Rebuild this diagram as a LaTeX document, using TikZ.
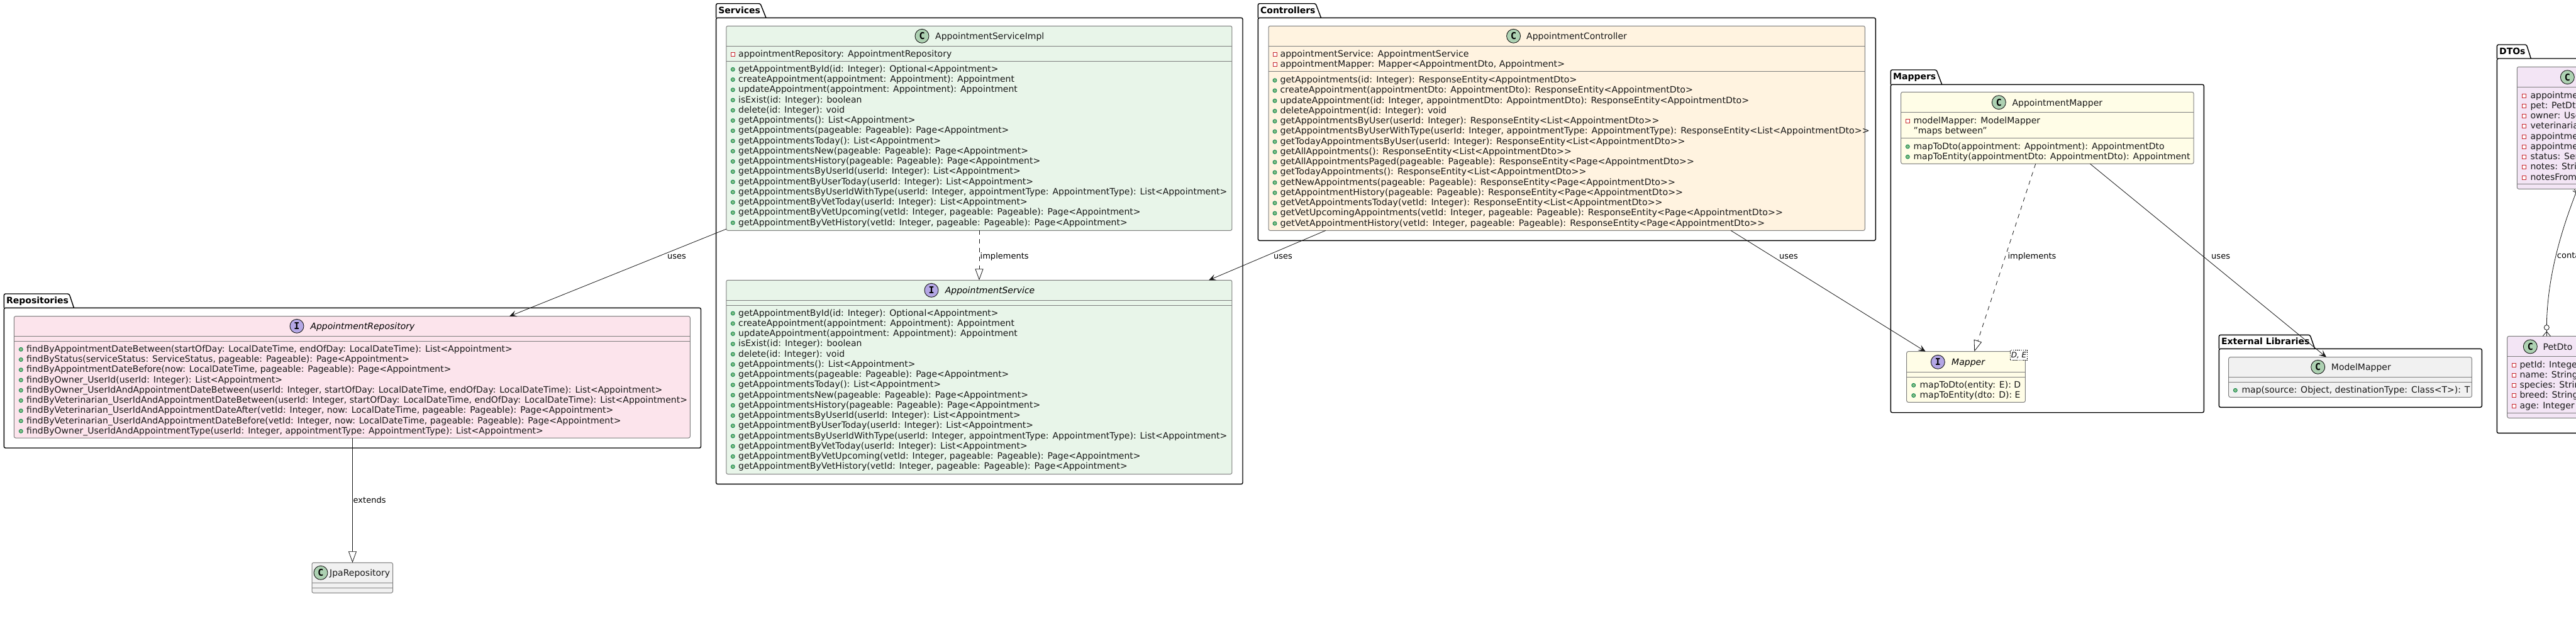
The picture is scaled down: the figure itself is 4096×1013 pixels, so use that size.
\documentclass[tikz,border=0pt]{standalone}
\usepackage{fontspec}
\setmainfont{DejaVu Sans}
\newfontfamily\iconfont{DejaVu Sans Mono}
\newfontfamily\ctlfont[FakeStretch=1.018]{DejaVu Sans}
\usetikzlibrary{arrows.meta,calc}
\definecolor{svcfill}{HTML}{E8F5E9}
\definecolor{ctlfill}{HTML}{FFF3E0}
\definecolor{repofill}{HTML}{FCE4EC}
\definecolor{mapfill}{HTML}{FFFDE7}
\definecolor{dtofill}{HTML}{F3E5F5}
\definecolor{extfill}{HTML}{F1F1F1}
\definecolor{classicon}{HTML}{ADD1B2}
\definecolor{ifaceicon}{HTML}{B4A7E5}
\definecolor{classline}{HTML}{7F7F7F}
\definecolor{inkc}{HTML}{181818}
\definecolor{pubfill}{HTML}{84BE84}
\definecolor{publine}{HTML}{038048}
\definecolor{privline}{HTML}{C82930}
\tikzset{
  classnode/.style={draw=classline,line width=1pt,rounded corners=2.5pt,inner sep=0pt,outer sep=0pt,anchor=north west},
  pkgnode/.style={draw=black,line width=1.4pt,rounded corners=2.5pt,inner sep=0pt,outer sep=0pt,anchor=north west,fill=white},
  pkgtab/.style={draw=black,line width=1.4pt,rounded corners=2.5pt,fill=white},
  pkgtitle/.style={inner sep=0pt,anchor=base west,font=\fontsize{14}{16}\selectfont\bfseries},
  sepline/.style={draw=classline,line width=1pt},
  memtext/.style={inner sep=0pt,anchor=base west,text=inkc,font=\fontsize{14}{16}\selectfont},
  nametext/.style={inner sep=0pt,anchor=base west,text=inkc,font=\fontsize{14}{16}\selectfont},
  ifacetext/.style={inner sep=0pt,anchor=base west,text=black,font=\fontsize{14}{16}\selectfont\itshape},
  lbl/.style={inner sep=0pt,anchor=base west,text=black,font=\fontsize{13}{15}\selectfont},
  pubm/.style={circle,draw=publine,fill=pubfill,line width=0.8pt,minimum size=6pt,inner sep=0pt},
  privm/.style={rectangle,draw=privline,fill=white,line width=0.8pt,minimum size=6pt,inner sep=0pt},
  cicon/.style={circle,draw=inkc,fill=classicon,line width=0.9pt,minimum size=22pt,inner sep=0pt,font=\fontsize{15}{15}\iconfont\bfseries\selectfont},
  iicon/.style={circle,draw=inkc,fill=ifaceicon,line width=0.9pt,minimum size=22pt,inner sep=0pt,font=\fontsize{15}{15}\iconfont\bfseries\selectfont},
  conn/.style={draw=inkc,line width=0.8pt},
  usesarrow/.style={conn,-{Stealth[length=11.5pt,width=10pt,inset=5pt,fill=inkc]}},
  realize/.style={conn,-{Triangle[open,length=18pt,width=13pt,fill=white]}},
  dashedrealize/.style={realize,dash pattern=on 7pt off 7pt},
}
% #1 name, #2 style, #3 fill, #4 x1, #5 y1, #6 x2, #7 y2
\newcommand\boxnode[7]{%
  \pgfmathsetmacro\bw{#6-#4}\pgfmathsetmacro\bh{#7-#5}%
  \node[#2,fill=#3,minimum width=\bw pt,minimum height=\bh pt] (#1) at (#4,#5) {};}
% #1 name, #2 x1, #3 tab top, #4 body top, #5 x2, #6 y2, #7 tab r top, #8 tab r bottom, #9 title
\newcommand\pkgnode[9]{%
  \draw[pkgtab] (#2,#4) -- (#2,#3) -- (#7,#3) -- (#8,#4);
  \pgfmathsetmacro\bw{#5-#2}\pgfmathsetmacro\bh{#6-#4}%
  \node[pkgnode,minimum width=\bw pt,minimum height=\bh pt] (#1) at (#2,#4) {};
  \pgfmathsetmacro\ty{#3+15.6}%
  \pgfmathsetmacro\tx{#2+3.6}%
  \node[pkgtitle] (#1-title) at (\tx,\ty) {#9};}
% #1 prefix, #2 marker style, #3 marker x, #4 text x, #5 first y, #6 list
\newcommand\members[6]{%
  \foreach \t [count=\i from 0] in {#6}{%
    \pgfmathsetmacro\yy{#5+16.25*\i}%
    \pgfmathsetmacro\ym{\yy+1}%
    \pgfmathsetmacro\yb{\yy+5}%
    \node[#2] (#1d\i) at (#3,\ym) {};
    \node[memtext] (#1t\i) at (#4,\yb) {\t};
  }}
\newcommand\seps[2]{\foreach \yy in {#2}{\draw[sepline] (#1.west |- 0,\yy) -- (#1.east |- 0,\yy);}}
\begin{document}
\begin{tikzpicture}[x=1pt,y=-1pt]
\useasboundingbox (0,0) rectangle (4096,1013);
\clip (0,0) rectangle (4096,1013);
\fill[white] (0,0) rectangle (4096,1013);

% ---------- packages
\pkgnode{pkgrepo}{6.3}{467}{489.3}{1114.5}{712}{110}{117.5}{Repositories}
\pkgnode{pkgsvc}{1138.6}{5.7}{28.3}{1976}{769.4}{1209}{1218}{Services}
\pkgnode{pkgctl}{2000.3}{5.7}{28.3}{2982.3}{382.3}{2092}{2100.5}{Controllers}
\pkgnode{pkgmap}{3006.3}{111}{134.3}{3504.3}{655.7}{3079}{3087.7}{Mappers}
\pkgnode{pkgext}{3528.3}{532.3}{554.3}{3946.3}{647.3}{3673}{3680.7}{External Libraries}
\pkgnode{pkgdto}{3970.3}{71}{93}{4200}{688.4}{4017.3}{4024.3}{DTOs}

% ---------- AppointmentRepository
\boxnode{repo}{classnode}{repofill}{22.3}{502.7}{1097.3}{696}
\seps{repo}{534.3,542}
\node[iicon] (repo-icon) at (472,518.3) {I};
\node[ifacetext] (repo-name) at (493.3,523.5) {AppointmentRepository};
\members{repo}{pubm}{33.3}{42}{554.3}{
{findByAppointmentDateBetween(startOfDay: LocalDateTime, endOfDay: LocalDateTime): List<Appointment>},
{findByStatus(serviceStatus: ServiceStatus, pageable: Pageable): Page<Appointment>},
{findByAppointmentDateBefore(now: LocalDateTime, pageable: Pageable): Page<Appointment>},
{findByOwner\_UserId(userId: Integer): List<Appointment>},
{findByOwner\_UserIdAndAppointmentDateBetween(userId: Integer, startOfDay: LocalDateTime, endOfDay: LocalDateTime): List<Appointment>},
{findByVeterinarian\_UserIdAndAppointmentDateBetween(userId: Integer, startOfDay: LocalDateTime, endOfDay: LocalDateTime): List<Appointment>},
{findByVeterinarian\_UserIdAndAppointmentDateAfter(vetId: Integer, now: LocalDateTime, pageable: Pageable): Page<Appointment>},
{findByVeterinarian\_UserIdAndAppointmentDateBefore(vetId: Integer, now: LocalDateTime, pageable: Pageable): Page<Appointment>},
{findByOwner\_UserIdAndAppointmentType(userId: Integer, appointmentType: AppointmentType): List<Appointment>}}

% ---------- JpaRepository
\boxnode{jpa}{classnode}{extfill}{496}{894.3}{624.5}{942.3}
\seps{jpa}{926,934.3}
\node[cicon] (jpa-icon) at (510,910.3) {C};
\node[nametext] (jpa-name) at (524,915.5) {JpaRepository};

% ---------- AppointmentServiceImpl
\boxnode{impl}{classnode}{svcfill}{1154.8}{41.3}{1958.9}{366.3}
\seps{impl}{73.3,97.3}
\node[cicon] (impl-icon) at (1466,57.3) {C};
\node[nametext] (impl-name) at (1487,62.5) {AppointmentServiceImpl};
\members{impla}{privm}{1165.3}{1174}{85.3}{{appointmentRepository: AppointmentRepository}}
\members{implm}{pubm}{1165.3}{1174}{109.3}{
{getAppointmentById(id: Integer): Optional<Appointment>},
{createAppointment(appointment: Appointment): Appointment},
{updateAppointment(appointment: Appointment): Appointment},
{isExist(id: Integer): boolean},
{delete(id: Integer): void},
{getAppointments(): List<Appointment>},
{getAppointments(pageable: Pageable): Page<Appointment>},
{getAppointmentsToday(): List<Appointment>},
{getAppointmentsNew(pageable: Pageable): Page<Appointment>},
{getAppointmentsHistory(pageable: Pageable): Page<Appointment>},
{getAppointmentsByUserId(userId: Integer): List<Appointment>},
{getAppointmentByUserToday(userId: Integer): List<Appointment>},
{getAppointmentsByUserIdWithType(userId: Integer, appointmentType: AppointmentType): List<Appointment>},
{getAppointmentByVetToday(userId: Integer): List<Appointment>},
{getAppointmentByVetUpcoming(vetId: Integer, pageable: Pageable): Page<Appointment>},
{getAppointmentByVetHistory(vetId: Integer, pageable: Pageable): Page<Appointment>}}

% ---------- AppointmentService
\boxnode{svc}{classnode}{svcfill}{1154.8}{445.3}{1958.9}{753.5}
\seps{svc}{477.3,485.3}
\node[iicon] (svc-icon) at (1481,461.3) {I};
\node[ifacetext] (svc-name) at (1502.6,466.5) {AppointmentService};
\members{svcm}{pubm}{1165.3}{1174}{497}{
{getAppointmentById(id: Integer): Optional<Appointment>},
{createAppointment(appointment: Appointment): Appointment},
{updateAppointment(appointment: Appointment): Appointment},
{isExist(id: Integer): boolean},
{delete(id: Integer): void},
{getAppointments(): List<Appointment>},
{getAppointments(pageable: Pageable): Page<Appointment>},
{getAppointmentsToday(): List<Appointment>},
{getAppointmentsNew(pageable: Pageable): Page<Appointment>},
{getAppointmentsHistory(pageable: Pageable): Page<Appointment>},
{getAppointmentsByUserId(userId: Integer): List<Appointment>},
{getAppointmentByUserToday(userId: Integer): List<Appointment>},
{getAppointmentsByUserIdWithType(userId: Integer, appointmentType: AppointmentType): List<Appointment>},
{getAppointmentByVetToday(userId: Integer): List<Appointment>},
{getAppointmentByVetUpcoming(vetId: Integer, pageable: Pageable): Page<Appointment>},
{getAppointmentByVetHistory(vetId: Integer, pageable: Pageable): Page<Appointment>}}

% ---------- AppointmentController
\boxnode{ctl}{classnode}{ctlfill}{2017}{41.3}{2965.3}{366.3}
\seps{ctl}{73.3,113.3}
\node[cicon] (ctl-icon) at (2406.6,57.3) {C};
\node[nametext] (ctl-name) at (2427,62.5) {AppointmentController};
\begin{scope}[memtext/.append style={font=\fontsize{14}{16}\ctlfont}]
\members{ctla}{privm}{2027}{2035.4}{85.3}{
{appointmentService: AppointmentService},
{appointmentMapper: Mapper<AppointmentDto, Appointment>}}
\members{ctlm}{pubm}{2027}{2035.4}{126.7}{
{getAppointments(id: Integer): ResponseEntity<AppointmentDto>},
{createAppointment(appointmentDto: AppointmentDto): ResponseEntity<AppointmentDto>},
{updateAppointment(id: Integer, appointmentDto: AppointmentDto): ResponseEntity<AppointmentDto>},
{deleteAppointment(id: Integer): void},
{getAppointmentsByUser(userId: Integer): ResponseEntity<List<AppointmentDto>>},
{getAppointmentsByUserWithType(userId: Integer, appointmentType: AppointmentType): ResponseEntity<List<AppointmentDto>>},
{getTodayAppointmentsByUser(userId: Integer): ResponseEntity<List<AppointmentDto>>},
{getAllAppointments(): ResponseEntity<List<AppointmentDto>>},
{getAllAppointmentsPaged(pageable: Pageable): ResponseEntity<Page<AppointmentDto>>},
{getTodayAppointments(): ResponseEntity<List<AppointmentDto>>},
{getNewAppointments(pageable: Pageable): ResponseEntity<Page<AppointmentDto>>},
{getAppointmentHistory(pageable: Pageable): ResponseEntity<Page<AppointmentDto>>},
{getVetAppointmentsToday(vetId: Integer): ResponseEntity<List<AppointmentDto>>},
{getVetUpcomingAppointments(vetId: Integer, pageable: Pageable): ResponseEntity<Page<AppointmentDto>>},
{getVetAppointmentHistory(vetId: Integer, pageable: Pageable): ResponseEntity<Page<AppointmentDto>>}}
\end{scope}

% ---------- AppointmentMapper
\boxnode{amap}{classnode}{mapfill}{3022.7}{146.3}{3488}{260.3}
\seps{amap}{178.3,219.3}
\node[cicon] (amap-icon) at (3178.3,162.7) {C};
\node[nametext] (amap-name) at (3199.3,168) {AppointmentMapper};
\members{amapa}{privm}{3033.3}{3042.3}{191}{{modelMapper: ModelMapper}}
\node[memtext] (amap-note) at (3042.3,212) {"maps between"};
\members{amapm}{pubm}{3033.3}{3042.3}{232}{
{mapToDto(appointment: Appointment): AppointmentDto},
{mapToEntity(appointmentDto: AppointmentDto): Appointment}}

% ---------- Mapper
\boxnode{mapper}{classnode}{mapfill}{3031.7}{558.7}{3220.3}{639.3}
\seps{mapper}{591.3,599.3}
\node[iicon] (mapper-icon) at (3081.3,575.3) {I};
\node[ifacetext] (mapper-name) at (3103,580.5) {Mapper};
\node[draw=black,dash pattern=on 1.6pt off 1.6pt,line width=0.7pt,fill=white,inner sep=0pt,minimum width=26.6pt,minimum height=16.4pt,font=\fontsize{12}{14}\selectfont\itshape] (mapper-generic) at (3210,564.5) {D, E};
\members{mapperm}{pubm}{3042.7}{3052.3}{611.3}{
{mapToDto(entity: E): D},
{mapToEntity(dto: D): E}}

% ---------- ModelMapper
\boxnode{mm}{classnode}{extfill}{3543.7}{567.7}{3930.3}{631.3}
\seps{mm}{599.3,607.3}
\node[cicon] (mm-icon) at (3685.7,583.3) {C};
\node[nametext] (mm-name) at (3706.7,588.5) {ModelMapper};
\members{mmm}{pubm}{3554.3}{3564.3}{619.3}{{map(source: Object, destinationType: Class<T>): T}}

% ---------- AppointmentDto
\boxnode{adto}{classnode}{dtofill}{4002.3}{106.3}{4300}{300.3}
\seps{adto}{138.3,292.3}
\node[cicon] (adto-icon) at (4082.3,122.7) {C};
\members{adtoa}{privm}{4013.3}{4023.3}{151}{
{appointme},{pet: PetDt},{owner: Use},{veterinaria},{appointme},{appointme},{status: Ser},{notes: Stri},{notesFrom}}

% ---------- PetDto
\boxnode{pet}{classnode}{dtofill}{3986.7}{534.4}{4115}{664.3}
\seps{pet}{566.5,656.3}
\node[cicon] (pet-icon) at (4023.3,550.9) {C};
\node[nametext] (pet-name) at (4043.3,556) {PetDto};
\members{peta}{privm}{3997.3}{4006.3}{579}{
{petId: Intege},{name: String},{species: Strin},{breed: String},{age: Integer}}

% ---------- connectors
\draw[realize] ([xshift=538.2pt]repo.south west) -- ([xshift=64.5pt]jpa.north west);
\node[lbl] (lbl-extends) at (561.5,799.5) {extends};

\draw[dashedrealize] ([xshift=402.2pt]impl.south west) -- ([xshift=402.2pt]svc.north west);
\node[lbl] (lbl-impl1) at (1558.5,411.3) {implements};

\draw[usesarrow] ([yshift=2.3pt]impl.south west) -- ([xshift=787.7pt]repo.north west);
\node[lbl] (lbl-uses1) at (1061,411.3) {uses};

\draw[usesarrow] ([xshift=91pt]ctl.south west) -- ([xshift=767.2pt]svc.north west);
\node[lbl] (lbl-uses2) at (2025,411.3) {uses};

\draw[usesarrow] ([xshift=735pt]ctl.south west) -- ([xshift=30pt]mapper.north west);
\node[lbl] (lbl-uses3) at (2829,411.3) {uses};

\draw[dashedrealize] ([xshift=214pt]amap.south west) -- ([xshift=107.6pt]mapper.north west);
\node[lbl] (lbl-impl2) at (3192.3,411.3) {implements};

\draw[usesarrow] ([xshift=300.6pt]amap.south west) -- ([xshift=155.3pt]mm.north west);
\node[lbl] (lbl-uses4) at (3516,411.3) {uses};

% AppointmentDto -- PetDto
\node[circle,draw=inkc,line width=0.8pt,minimum size=8pt,inner sep=0pt,fill=white] (petring) at (4049.3,520.5) {};
\draw[conn] ([xshift=94pt,yshift=-5pt]adto.south west) .. controls (4072,368) and (4050.5,440) .. (petring.north);
\draw[conn] (petring.south) -- ([xshift=62.6pt]pet.north west);
\draw[conn] ([xshift=62.6pt,yshift=7.4pt]pet.north west) -- ([xshift=56.3pt]pet.north west);
\draw[conn] ([xshift=62.6pt,yshift=7.4pt]pet.north west) -- ([xshift=68.8pt]pet.north west);
\draw[conn] ([xshift=88.5pt,yshift=-3pt]adto.south west) -- ([xshift=94pt,yshift=-6pt]adto.south west);
\draw[conn] ([xshift=91pt,yshift=-1pt]adto.south west) -- ([xshift=95pt,yshift=-6pt]adto.south west);
\node[lbl] (lbl-contains) at (4065.7,410.6) {conta};
\end{tikzpicture}
\end{document}
